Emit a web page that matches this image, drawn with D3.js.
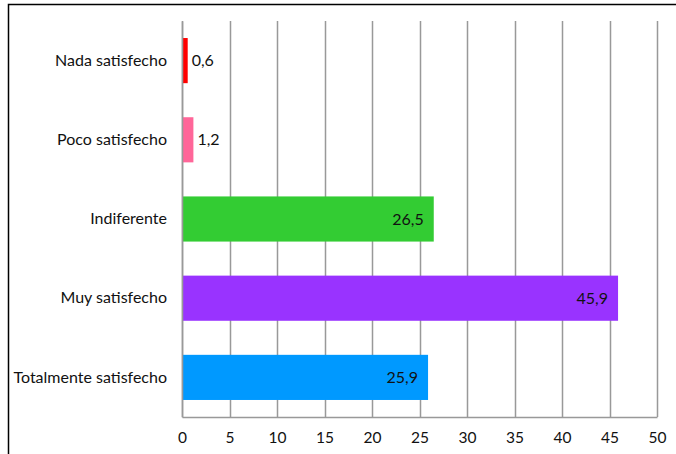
<!DOCTYPE html>
<html>
<head>
<meta charset="utf-8">
<script src="https://cdn.jsdelivr.net/npm/d3@7"></script>
<style>
  body { margin: 0; background: #fff; }
  svg { display: block; }
  text { font-family: Lato, "Open Sans", sans-serif; font-size: 16px; fill: #111; }
</style>
</head>
<body>
<svg id="chart" width="676" height="454"></svg>
<script>
// datos
var categorias = ["Nada satisfecho", "Poco satisfecho", "Indiferente", "Muy satisfecho", "Totalmente satisfecho"];
var valores = [0.6, 1.2, 26.5, 45.9, 25.9];
var colores = ["#ff0000", "#ff6699", "#33cc33", "#9933ff", "#0099ff"];
var ticksX = [0, 5, 10, 15, 20, 25, 30, 35, 40, 45, 50];

var fuente = "Lato, 'Open Sans', sans-serif";
var svg = d3.select("#chart");

// marco exterior (sale por la derecha y por abajo)
svg.append("rect")
  .attr("x", 8.5).attr("y", 4.5)
  .attr("width", 700).attr("height", 500)
  .attr("fill", "none").attr("stroke", "#000").attr("stroke-width", 1.5);

var margin = {top: 21, left: 182, right: 19, bottom: 37},
    width = 676 - margin.left - margin.right,
    height = 454 - margin.top - margin.bottom;

var g = svg.append("g").attr("transform", "translate(" + margin.left + "," + margin.top + ")");

var x = d3.scaleLinear().domain([0, 50]).range([0, width]);
var y = d3.scaleBand().domain(categorias).range([0, height]).paddingInner(0.43).paddingOuter(0.215);

// lineas de cuadricula verticales
g.selectAll(".grid")
  .data(ticksX)
  .enter().append("line")
  .attr("x1", function(d){ return Math.round(x(d)) + 0.5; })
  .attr("x2", function(d){ return Math.round(x(d)) + 0.5; })
  .attr("y1", 0).attr("y2", height)
  .attr("stroke", "#999").attr("stroke-width", 1.5);

// barras
g.selectAll(".bar")
  .data(categorias)
  .enter().append("rect")
  .attr("x", x(0))
  .attr("y", function(d){ return y(d); })
  .attr("width", function(d, i){ return x(valores[i]) - x(0); })
  .attr("height", y.bandwidth())
  .attr("fill", function(d, i){ return colores[i]; });

// eje x
var xAxis = d3.axisBottom(x).tickValues(ticksX).tickSize(0).tickPadding(15).tickFormat(d3.format("d"));
var ax = g.append("g").attr("transform", "translate(0," + height + ")").call(xAxis);
ax.select(".domain").attr("stroke", "#999").attr("stroke-width", 1.5);
ax.selectAll("text").style("font-size", "15.5px").style("font-family", fuente).style("fill", "#111");

// eje y
var yAxis = d3.axisLeft(y).tickSize(0).tickPadding(15);
var ay = g.append("g").call(yAxis);
ay.select(".domain").attr("stroke", "#999").attr("stroke-width", 1.5);
ay.selectAll("text").style("font-size", "16px").style("font-family", fuente).style("fill", "#111");

// etiquetas de valores
var fmt = function(v){ return String(v).replace(".", ","); };
g.selectAll(".lbl")
  .data(categorias)
  .enter().append("text")
  .attr("x", function(d, i){ return valores[i] < 5 ? x(valores[i]) + 4 : x(valores[i]) - 10; })
  .attr("y", function(d){ return y(d) + y.bandwidth() / 2; })
  .attr("dy", "0.35em")
  .attr("text-anchor", function(d, i){ return valores[i] < 5 ? "start" : "end"; })
  .text(function(d, i){ return fmt(valores[i]); });
</script>
</body>
</html>
